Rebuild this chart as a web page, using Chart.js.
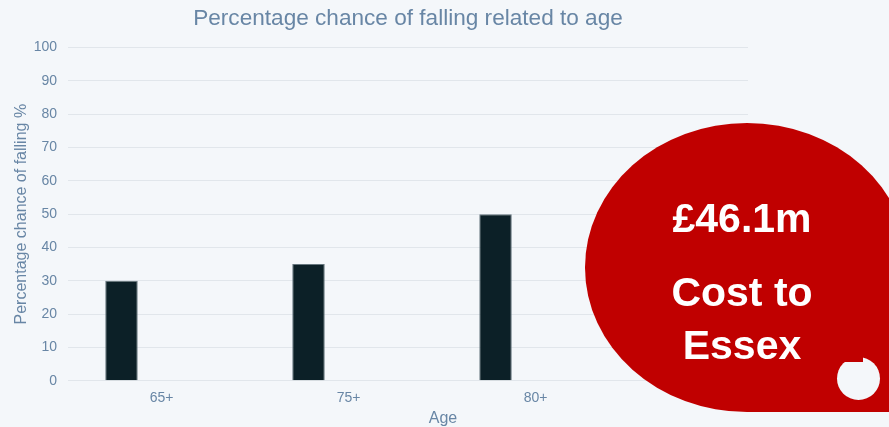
<!DOCTYPE html>
<html>
<head>
<meta charset="utf-8">
<script src="https://cdn.jsdelivr.net/npm/chart.js@4/dist/chart.umd.min.js"></script>
<style>
  html, body { margin: 0; padding: 0; }
  body {
    width: 889px; height: 427px; overflow: hidden; position: relative;
    background: #f4f7fa; font-family: "Liberation Sans", Arial, sans-serif;
  }
  #fallChart { position: absolute; left: 0; top: 0; }
  .bubble {
    position: absolute; left: 585px; top: 123px; width: 324px; height: 289px;
    background: #c00000; border-radius: 50% 50% 0 50%;
  }
  .bubble-text {
    position: absolute; left: 642px; width: 200px; text-align: center;
    color: #fff; font-weight: bold; font-size: 41px; line-height: 53px;
  }
  .dot {
    position: absolute; left: 837px; top: 357px; width: 43px; height: 43px;
    border-radius: 50%; background: #f4f7fa;
  }
  .dot-cut { position: absolute; left: 836px; top: 355px; width: 27px; height: 7px; background: #c00000; }
</style>
</head>
<body>
<canvas id="fallChart" width="825" height="430"></canvas>
<div class="bubble"></div>
<div class="bubble-text" style="top:192px">£46.1m</div>
<div class="bubble-text" style="top:266px">Cost to<br>Essex</div>
<div class="dot"></div>
<div class="dot-cut"></div>

<script>
// data
const ageGroups = ['65+', '75+', '80+'];
const fallChance = [30, 35, 50];
const otherSeries = [null, null, null];   // empty second series, keeps the bars offset
const yTicksMax = 100;
const yStep = 10;

const textColor = '#6886a5';
const fontFamily = '"Liberation Sans", Arial, sans-serif';

// x axis title is drawn a bit right of the plot center in the original
const ageTitle = {
  id: 'ageTitle',
  afterDraw(chart) {
    const ctx = chart.ctx;
    ctx.save();
    ctx.font = '16px ' + fontFamily;
    ctx.fillStyle = textColor;
    ctx.textAlign = 'center';
    ctx.textBaseline = 'alphabetic';
    ctx.fillText('Age', 443, 423);
    ctx.restore();
  }
};

const ctx = document.getElementById('fallChart').getContext('2d');
const chart = new Chart(ctx, {
  type: 'bar',
  data: {
    datasets: [
      {
        label: 'Percentage chance of falling',
        data: fallChance.map((v, i) => ({ x: i, y: v })),
        backgroundColor: '#0c2027',
        borderColor: '#66767e',
        borderWidth: 1
      },
      {
        label: 'Other',
        data: otherSeries.map((v, i) => ({ x: i, y: v })),
        backgroundColor: '#c00000'
      }
    ]
  },
  options: {
    responsive: false,
    animation: false,
    categoryPercentage: 0.856,
    barPercentage: 0.406,
    layout: { padding: { left: 0, right: 77, top: 0, bottom: 0 } },
    plugins: {
      legend: { display: false },
      tooltip: { enabled: false },
      title: {
        display: true,
        fullSize: false,
        text: 'Percentage chance of falling related to age',
        color: textColor,
        font: { family: fontFamily, size: 22.6, weight: 'normal' },
        padding: { top: 5.5, bottom: 15 }
      }
    },
    scales: {
      x: {
        type: 'linear',
        min: -0.5,
        max: 3.136,
        offset: false,
        grid: { display: false, drawTicks: false, offset: false },
        border: { display: false },
        afterBuildTicks(scale) {
          scale.ticks = ageGroups.map((c, i) => ({ value: i }));
        },
        afterFit(scale) { scale.height = 49.3; },
        ticks: {
          color: textColor,
          font: { family: fontFamily, size: 14 },
          padding: 9,
          callback: (v) => ageGroups[v] ?? ''
        }
      },
      y: {
        min: 0,
        max: yTicksMax,
        grid: { color: '#e1e6eb', drawTicks: false },
        border: { display: false },
        afterFit(scale) { scale.width = 68; },
        ticks: {
          stepSize: yStep,
          color: textColor,
          font: { family: fontFamily, size: 14 },
          padding: 11
        },
        title: {
          display: true,
          text: 'Percentage chance of falling %',
          color: textColor,
          font: { family: fontFamily, size: 16 },
          padding: { top: 11.5, bottom: 0 }
        }
      }
    }
  },
  plugins: [ageTitle]
});
</script>
</body>
</html>
